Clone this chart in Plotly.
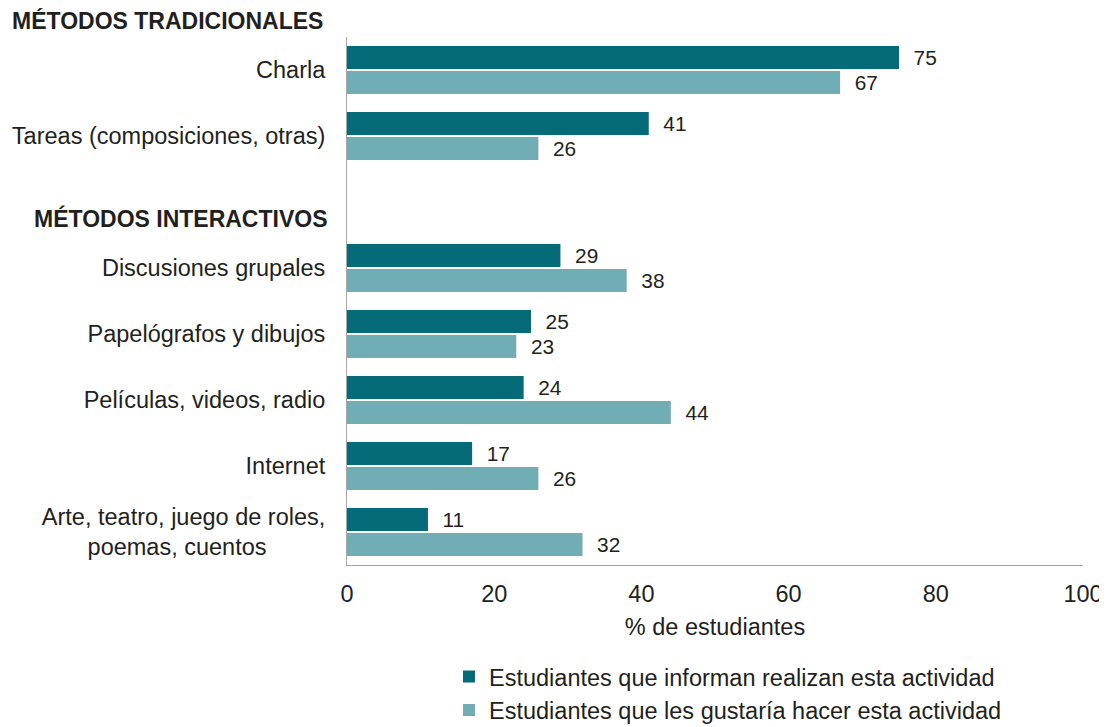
import plotly.graph_objects as go

categories = [
    "Charla",
    "Tareas (composiciones, otras)",
    " ",
    "Discusiones grupales",
    "Papelógrafos y dibujos",
    "Películas, videos, radio",
    "Internet",
    "Arte, teatro, juego de roles,<br>poemas, cuentos" + "\u00a0" * 9,
]
realizan = [75, 41, None, 29, 25, 24, 17, 11]
gustaria = [67, 26, None, 38, 23, 44, 26, 32]

series_names = [
    "Estudiantes que informan realizan esta actividad",
    "Estudiantes que les gustaría hacer esta actividad",
]
colors = ["#056B78", "#71ADB4"]
text_color = "#231F20"
font_family = "Liberation Sans, Arial, sans-serif"
fs = 23.5

fig = go.Figure()
for name, vals, color in zip(series_names, [realizan, gustaria], colors):
    fig.add_trace(
        go.Bar(
            y=categories,
            x=vals,
            orientation="h",
            name=name,
            marker=dict(color=color, line=dict(width=0)),
            text=[f"  {v}" if v is not None else "" for v in vals],
            textposition="outside",
            textfont=dict(size=fs, color=text_color),
            cliponaxis=False,
        )
    )

# section headers
fig.add_annotation(
    text="<b>MÉTODOS TRADICIONALES</b>",
    xref="paper", yref="paper",
    x=0, y=1, xshift=-337, yshift=17,
    xanchor="left", yanchor="middle",
    showarrow=False,
    font=dict(size=23, color=text_color),
)
fig.add_annotation(
    text="<b>MÉTODOS INTERACTIVOS</b>",
    xref="paper", yref="paper",
    x=0, y=(565 - 218) / 528, xshift=-17,
    xanchor="right", yanchor="middle",
    showarrow=False,
    font=dict(size=23, color=text_color),
)

# page body has an 8px margin, so the figure is 8px smaller each way
fig.update_layout(
    width=1099,
    height=719,
    margin=dict(l=339, r=24, t=29, b=162, autoexpand=False),
    paper_bgcolor="white",
    plot_bgcolor="white",
    barmode="group",
    bargap=0.24,
    bargroupgap=0.08,
    font=dict(family=font_family, size=fs, color=text_color),
    showlegend=True,
    legend=dict(
        orientation="v",
        x=(449 - 347) / 736, xanchor="left",
        y=-0.17, yanchor="top",
        font=dict(size=fs, color=text_color),
        itemsizing="constant",
        tracegroupgap=5,
    ),
    xaxis=dict(
        range=[0, 100],
        dtick=20,
        showgrid=False,
        zeroline=False,
        showline=True,
        linecolor="#A6A6A6",
        linewidth=1,
        ticks="",
        ticklabelstandoff=8,
        automargin=False,
        title=dict(text="% de estudiantes", standoff=12, font=dict(size=fs)),
    ),
    yaxis=dict(
        autorange="reversed",
        showgrid=False,
        showline=True,
        linecolor="#A6A6A6",
        linewidth=1,
        ticks="",
        ticklabelstandoff=16,
        automargin=False,
    ),
)

fig.write_html("out.html")
